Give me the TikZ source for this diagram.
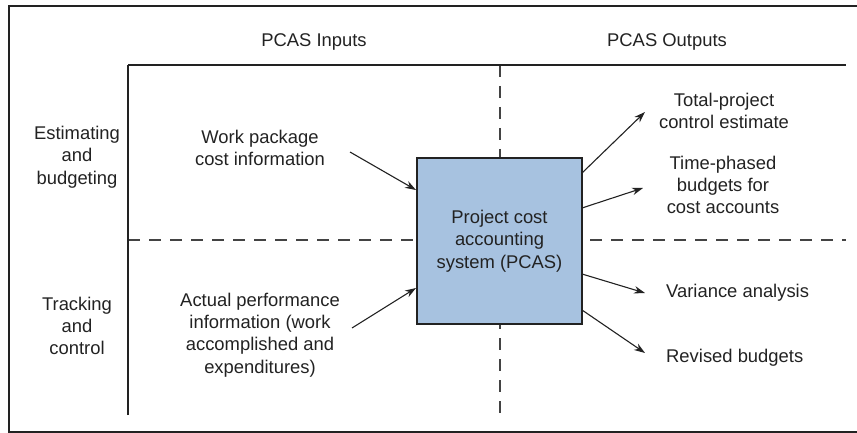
\documentclass[tikz,border=0pt]{standalone}
\usepackage{fontspec}
\setmainfont{Liberation Sans}
\usetikzlibrary{arrows.meta}
\definecolor{ink}{HTML}{222222}
\definecolor{boxfill}{HTML}{A7C2E0}
\tikzset{
  lbl/.style={inner sep=0pt, align=center, text=ink, font=\fontsize{18.4}{22.3}\selectfont},
  framel/.style={draw=ink, line width=2.2pt},
  gridl/.style={draw=ink, line width=1.3pt},
  thickl/.style={draw=ink, line width=2.6pt},
  dashl/.style={draw=ink!85, line width=1.1pt, dash pattern=on 12pt off 9pt},
  arr/.style={draw=ink, line width=1.1pt, -{Stealth[length=11pt,width=7.5pt]}},
  pcas/.style={draw=ink, line width=1.3pt, fill=boxfill, minimum width=165pt, minimum height=166pt, inner sep=0pt, align=center, text=ink, font=\fontsize{18.4}{22.3}\selectfont}
}
\begin{document}
\begin{tikzpicture}[x=1pt,y=-1pt]
\useasboundingbox (0,0) rectangle (857,433);
% outer frame
\coordinate (ftr) at (857,6);
\coordinate (ftl) at (9,6);
\coordinate (fbl) at (9,432);
\coordinate (fbr) at (857,432);
\draw[framel] (ftr) -- (ftl) -- (fbl) -- (fbr);
% grid
\coordinate (gtl) at (128,65);
\coordinate (gtr) at (846,65);
\coordinate (gbl) at (128,415);
\coordinate (hdl) at (128,240);
\coordinate (hdr) at (846,240);
\coordinate (vdt) at (500,65);
\coordinate (vdb) at (500,415);
\draw[dashl] (hdl) -- (hdr);
\draw[dashl] (vdt) -- (vdb);
\draw[gridl] (gtl) -- (gtr);
\draw[thickl] (gbl) -- (gtl);
% central box
\node[pcas] (box) at (499.5,241) {Project cost\\accounting\\system (PCAS)};
% headings
\node[lbl] (hin) at (314,42) {PCAS Inputs};
\node[lbl] (hout) at (667,42) {PCAS Outputs};
\node[lbl] (est) at (77,157) {Estimating\\and\\budgeting};
\node[lbl] (trk) at (77,326) {Tracking\\and\\control};
% inputs
\node[lbl] (wp) at (260,148) {Work package\\cost information};
\node[lbl] (ap) at (260,335) {Actual performance\\information (work\\accomplished and\\expenditures)};
% outputs
\node[lbl] (tp) at (724,111) {Total-project\\control estimate};
\node[lbl] (tph) at (723,185) {Time-phased\\budgets for\\cost accounts};
\node[lbl, anchor=west] (va) at (666,293) {Variance analysis};
\node[lbl, anchor=west] (rb) at (666,358) {Revised budgets};
% arrow end points
\coordinate (i1s) at (350,152);
\coordinate (i1e) at (416,190);
\coordinate (i2s) at (352,328);
\coordinate (i2e) at (416,288);
\coordinate (o1s) at (582,173);
\coordinate (o1e) at (645,112);
\coordinate (o2s) at (582,208);
\coordinate (o2e) at (643,188);
\coordinate (o3s) at (582,274);
\coordinate (o3e) at (645,293);
\coordinate (o4s) at (582,310);
\coordinate (o4e) at (645,353);
\draw[arr] (i1s) -- (i1e);
\draw[arr] (i2s) -- (i2e);
\draw[arr] (o1s) -- (o1e);
\draw[arr] (o2s) -- (o2e);
\draw[arr] (o3s) -- (o3e);
\draw[arr] (o4s) -- (o4e);
\end{tikzpicture}
\end{document}
